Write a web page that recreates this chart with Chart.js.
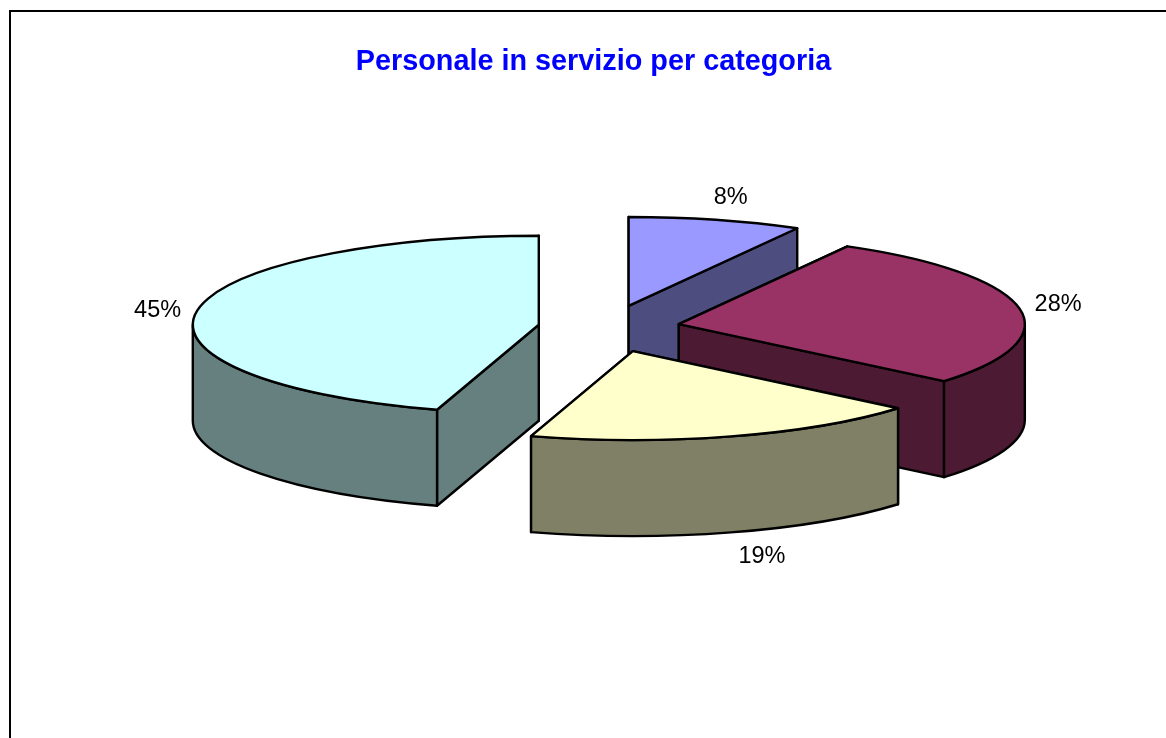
<!DOCTYPE html>
<html><head><meta charset="utf-8">
<script src="https://cdn.jsdelivr.net/npm/chart.js@4"></script>
<style>
html,body{margin:0;padding:0;background:#fff;overflow:hidden;width:1166px;height:738px}
#frame{position:absolute;left:9px;top:10px;width:1200px;height:800px;border:2px solid #000;box-sizing:border-box}
canvas{position:absolute;left:0;top:0}
</style></head>
<body>
<div id="frame"></div>
<canvas id="c" width="1166" height="738"></canvas>
<script>
const categories = ["Categoria A", "Categoria B", "Categoria C", "Categoria D"];
const shares = [8.1, 28.0, 18.65, 45.25];
const topColors = ["#9999FF", "#993366", "#FFFFCC", "#CCFFFF"];
const sideColors = ["#4D4D80", "#4D1A33", "#808066", "#668080"];
const titleText = "Personale in servizio per categoria";
const paintOrder = [0, 1, 3, 2];
const explodeBy = [78, 71, 84, 71];
const labelOffsets = [[15, -22], [39, -3], [31, 24], [-39, -1]];

const pie3d = {
  id: 'pie3d',
  beforeDatasetsDraw(chart, args, o) {
    const ctx = chart.ctx, arcs = chart.getDatasetMeta(0).data;
    const tilt = o.tilt, depth = o.depth;
    const apexOf = (a, i) => {
      const mid = (a.startAngle + a.endAngle) / 2;
      return { x: a.x + o.shiftX + Math.cos(mid) * explodeBy[i],
               y: a.y + Math.sin(mid) * explodeBy[i] * o.explodeTilt };
    };
    const stroke = () => { ctx.lineWidth = o.lineWidth; ctx.strokeStyle = '#000'; ctx.lineJoin = 'round'; ctx.stroke(); };
    paintOrder.forEach(i => {
      const a = arcs[i], p = apexOf(a, i), r = a.outerRadius;
      const rim = t => ({ x: p.x + Math.cos(t) * r, y: p.y + Math.sin(t) * r * tilt });
      ctx.fillStyle = sideColors[i];
      // cut faces, the one further back first
      [a.startAngle, a.endAngle].sort((u, v) => rim(u).y - rim(v).y).forEach(t => {
        const e = rim(t);
        ctx.beginPath();
        ctx.moveTo(p.x, p.y); ctx.lineTo(e.x, e.y);
        ctx.lineTo(e.x, e.y + depth); ctx.lineTo(p.x, p.y + depth);
        ctx.closePath(); ctx.fill(); stroke();
      });
      // outer wall: only the part of the rim that faces the viewer
      const tau = Math.PI * 2;
      [[0, Math.PI], [tau, tau + Math.PI], [-tau, -Math.PI]].forEach(([lo, hi]) => {
        const from = Math.max(a.startAngle, lo), to = Math.min(a.endAngle, hi);
        if (to <= from) return;
        ctx.beginPath();
        ctx.ellipse(p.x, p.y, r, r * tilt, 0, from, to);
        ctx.ellipse(p.x, p.y + depth, r, r * tilt, 0, to, from, true);
        ctx.closePath(); ctx.fill(); stroke();
      });
      // top face drawn by the library's own arc element, squashed into perspective
      ctx.save();
      ctx.translate(p.x, p.y); ctx.scale(1, tilt); ctx.translate(-a.x, -a.y);
      a.draw(ctx);
      ctx.restore();
      ctx.beginPath();
      ctx.moveTo(p.x, p.y);
      ctx.ellipse(p.x, p.y, r, r * tilt, 0, a.startAngle, a.endAngle);
      ctx.closePath(); stroke();
    });
    // percentage labels
    ctx.fillStyle = '#000';
    ctx.font = o.labelFont;
    ctx.textAlign = 'center';
    ctx.textBaseline = 'middle';
    arcs.forEach((a, i) => {
      const p = apexOf(a, i), mid = (a.startAngle + a.endAngle) / 2;
      const front = Math.sin(mid) > 0.5 ? depth : 0;
      const x = p.x + Math.cos(mid) * a.outerRadius + labelOffsets[i][0];
      const y = p.y + Math.sin(mid) * a.outerRadius * tilt + front + labelOffsets[i][1];
      ctx.fillText(Math.round(shares[i]) + '%', x, y);
    });
    return false;
  }
};

new Chart(document.getElementById('c'), {
  type: 'pie',
  data: {
    labels: categories,
    datasets: [{
      data: shares,
      backgroundColor: topColors,
      borderWidth: 0,
      radius: 346
    }]
  },
  plugins: [pie3d],
  options: {
    responsive: false,
    animation: false,
    rotation: 0,
    layout: { padding: { left: 21, top: 45, bottom: 162 } },
    events: [],
    plugins: {
      legend: { display: false },
      tooltip: { enabled: false },
      title: {
        display: true,
        text: titleText,
        color: '#0000FF',
        font: { family: '"Liberation Sans", Arial, sans-serif', size: 28.8, weight: 'bold' },
        padding: { top: 0, bottom: 0 }
      },
      pie3d: {
        tilt: 0.257, depth: 96, explodeTilt: 0.29,
        shiftX: 15.5, lineWidth: 2.4,
        labelFont: '23.5px "Liberation Sans", Arial, sans-serif'
      }
    }
  }
});
</script>
</body></html>
